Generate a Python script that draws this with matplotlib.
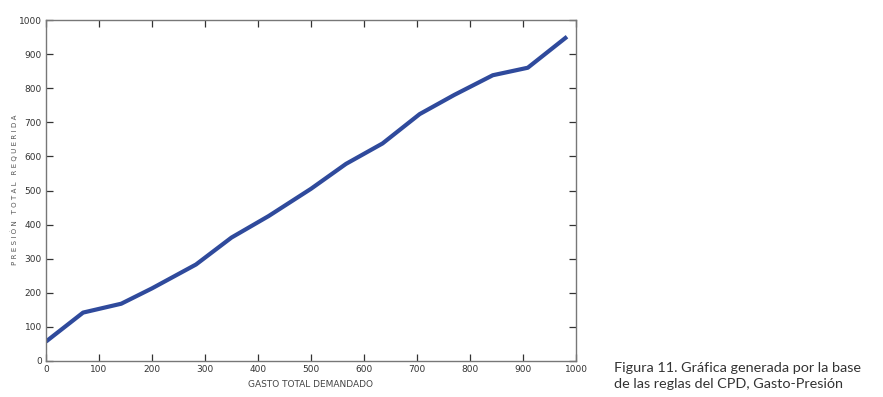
import matplotlib
matplotlib.use("Agg")
import matplotlib.pyplot as plt

# Gasto total demandado vs presion total requerida
gasto = [0, 70, 142, 200, 283, 350, 420, 500, 566, 635, 705, 770, 843, 909, 983]
presion = [57, 142, 168, 213, 283, 362, 425, 505, 578, 638, 724, 780, 838, 860, 951]

ticks = [0, 100, 200, 300, 400, 500, 600, 700, 800, 900, 1000]

fig = plt.figure(figsize=(8.83, 3.97), dpi=100)
ax = fig.add_axes([46 / 883, 1 - 361 / 397, 530 / 883, 341 / 397])

ax.plot(gasto, presion, color='#2f4a9c', linewidth=3.0, solid_capstyle='butt')

ax.set_xlim(0, 1000)
ax.set_ylim(0, 1000)
ax.set_xticks(ticks)
ax.set_yticks(ticks)

tick_font = ['Liberation Sans Narrow', 'DejaVu Sans']
ax.tick_params(direction='in', length=5, width=0.9, top=True, right=True,
               labelsize=6.5, colors='#333333', pad=3)
for lab in ax.get_xticklabels() + ax.get_yticklabels():
    lab.set_family(tick_font)
for s in ax.spines.values():
    s.set_color('#777777')
    s.set_linewidth(1.0)

ax.set_xlabel("GASTO TOTAL DEMANDADO", fontsize=6.5, color='#444444',
              family=tick_font, labelpad=4)

# y label placed by hand so it sits near the left edge as in the original
fig.text(14 / 883, 1 - 190 / 397, "P R E S I Ó N   T O T A L   R E Q U E R I D A",
         fontsize=5.1, color='#555555', rotation=90, ha='center', va='center')

fig.text(614 / 883, 1 - 376 / 397, "Figura 11. Gráfica generada por la base\nde las reglas del CPD, Gasto-Presión",
         fontsize=10.4, family=['Lato', 'DejaVu Sans'], color='#333333',
         va='center', ha='left', linespacing=1.3)

fig.savefig("out.png", dpi=100)
